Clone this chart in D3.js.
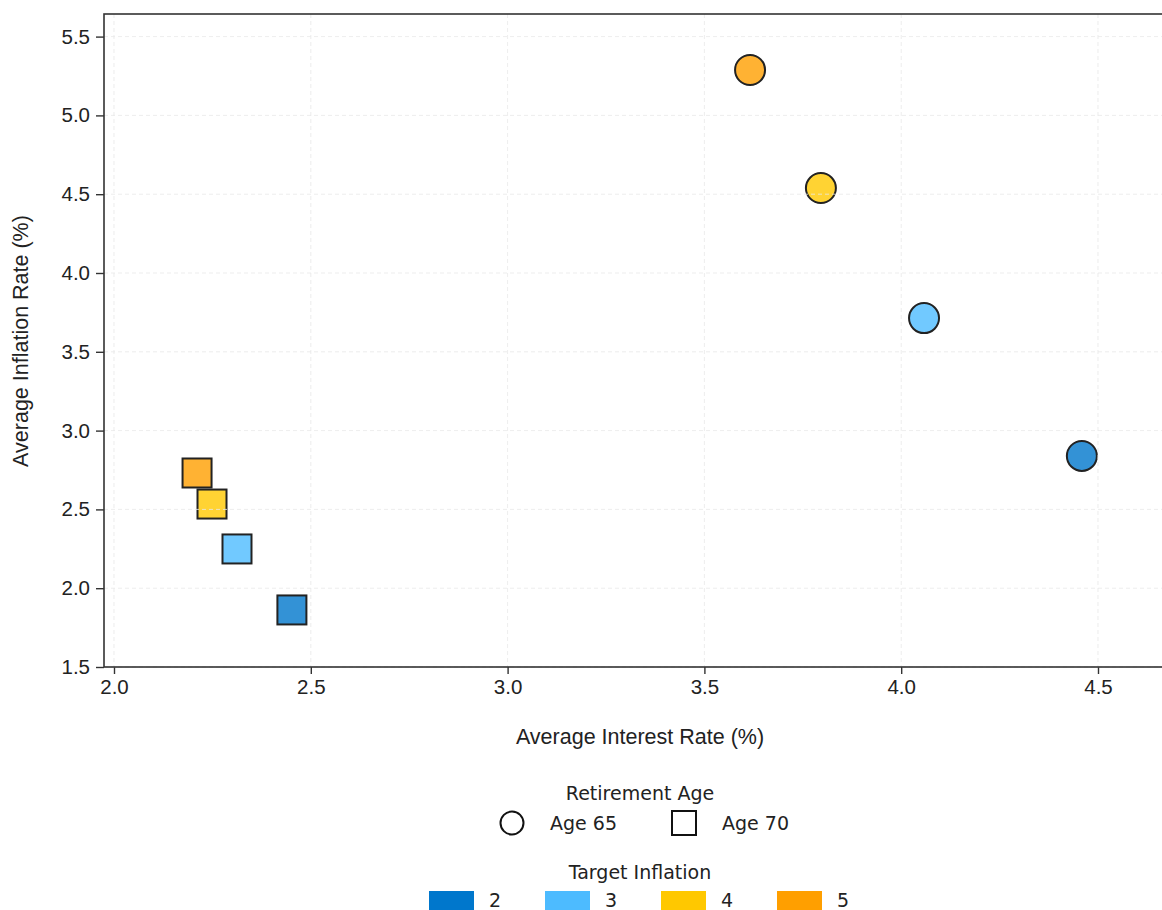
<!DOCTYPE html>
<html><head><meta charset="utf-8">
<script src="https://cdn.jsdelivr.net/npm/d3@7"></script>
<style>body{margin:0;background:#fff}svg{display:block}</style>
</head><body>
<svg id="c" width="1162" height="910"></svg>
<script>
const targets = ["2","3","4","5"];
const colors = ["#0077cc","#4dbbff","#ffc800","#ff9f00"];
const ages = ["Age 65","Age 70"];
// interest rate, inflation rate per target
const age65Interest = [4.459, 4.058, 3.796, 3.616];
const age65Inflation = [2.839, 3.714, 4.539, 5.288];
const age70Interest = [2.452, 2.3125, 2.249, 2.211];
const age70Inflation = [1.862, 2.249, 2.534, 2.731];
const xTicks = [2.0, 2.5, 3.0, 3.5, 4.0, 4.5];
const yTicks = [1.5, 2.0, 2.5, 3.0, 3.5, 4.0, 4.5, 5.0, 5.5];

const svg = d3.select("#c");
const L = 104, T = 14, R = 1175, B = 667;
const x = d3.scaleLinear().domain([1.9746, 2 + (R - 114) / 393.6]).range([L, R]);
const y = d3.scaleLinear().domain([1.5, 1.5 + (B - T) / 157.6]).range([B, T]);
const tickFont = "Liberation Sans, Arial, sans-serif";
const legFont = "DejaVu Sans, sans-serif";

const gx = svg.append("g").attr("transform", `translate(0,${B})`)
  .call(d3.axisBottom(x).tickValues(xTicks).tickFormat(d3.format(".1f")).tickSize(7).tickPadding(5));
const gy = svg.append("g").attr("transform", `translate(${L},0)`)
  .call(d3.axisLeft(y).tickValues(yTicks).tickFormat(d3.format(".1f")).tickSize(8).tickPadding(6));
[gx, gy].forEach(g => {
  g.select(".domain").remove();
  g.selectAll(".tick line").attr("stroke", "#333").attr("stroke-width", 1.4);
  g.selectAll(".tick text").attr("fill", "#222").style("font-family", tickFont).style("font-size", "20.5px");
});

// markers
const pts = [];
targets.forEach((t, i) => {
  pts.push({age: 0, t: i, xv: age65Interest[i], yv: age65Inflation[i]});
  pts.push({age: 1, t: i, xv: age70Interest[i], yv: age70Inflation[i]});
});
const mk = svg.append("g");
pts.forEach(p => {
  const cx = x(p.xv), cy = y(p.yv);
  if (p.age === 0) {
    mk.append("circle").attr("cx", cx).attr("cy", cy).attr("r", 15)
      .attr("fill", colors[p.t]).attr("fill-opacity", 0.8)
      .attr("stroke", "#222").attr("stroke-width", 2);
  } else {
    mk.append("rect").attr("x", cx - 14.5).attr("y", cy - 14.5).attr("width", 29).attr("height", 29)
      .attr("fill", colors[p.t]).attr("fill-opacity", 0.8)
      .attr("stroke", "#222").attr("stroke-width", 2);
  }
});

// grid (drawn on top, light)
const grid = svg.append("g").attr("stroke", "#e8e8e8").attr("stroke-width", 1).attr("stroke-dasharray", "4,3").attr("stroke-opacity", 0.8);
xTicks.forEach(v => grid.append("line").attr("x1", x(v)).attr("x2", x(v)).attr("y1", T).attr("y2", B));
yTicks.forEach(v => grid.append("line").attr("x1", L).attr("x2", R).attr("y1", y(v)).attr("y2", y(v)));

// frame
svg.append("rect").attr("x", L).attr("y", T).attr("width", R - L).attr("height", B - T)
  .attr("fill", "none").attr("stroke", "#333").attr("stroke-width", 1.6);

// axis labels
svg.append("text").attr("x", 640).attr("y", 744).attr("text-anchor", "middle")
  .style("font-family", tickFont).style("font-size", "21.5px").attr("fill", "#222")
  .text("Average Interest Rate (%)");
svg.append("text").attr("transform", `translate(28,341) rotate(-90)`).attr("text-anchor", "middle")
  .style("font-family", tickFont).style("font-size", "21.5px").attr("fill", "#222")
  .text("Average Inflation Rate (%)");

// legend 1
const lfs = "19px";
svg.append("text").attr("x", 640).attr("y", 800).attr("text-anchor", "middle")
  .style("font-family", legFont).style("font-size", lfs).attr("fill", "#222").text("Retirement Age");
svg.append("circle").attr("cx", 512).attr("cy", 823).attr("r", 11.5)
  .attr("fill", "none").attr("stroke", "#111").attr("stroke-width", 2);
svg.append("text").attr("x", 550).attr("y", 830).style("font-family", legFont).style("font-size", lfs).attr("fill", "#222").text(ages[0]);
svg.append("rect").attr("x", 672).attr("y", 811).attr("width", 24).attr("height", 24)
  .attr("fill", "none").attr("stroke", "#111").attr("stroke-width", 2);
svg.append("text").attr("x", 722).attr("y", 830).style("font-family", legFont).style("font-size", lfs).attr("fill", "#222").text(ages[1]);

// legend 2
svg.append("text").attr("x", 640).attr("y", 879).attr("text-anchor", "middle")
  .style("font-family", legFont).style("font-size", lfs).attr("fill", "#222").text("Target Inflation");
targets.forEach((t, i) => {
  const lx = 429 + i * 116;
  svg.append("rect").attr("x", lx).attr("y", 891).attr("width", 45).attr("height", 21).attr("fill", colors[i]);
  svg.append("text").attr("x", lx + 60).attr("y", 907).style("font-family", legFont).style("font-size", lfs).attr("fill", "#222").text(t);
});
</script>
</body></html>
